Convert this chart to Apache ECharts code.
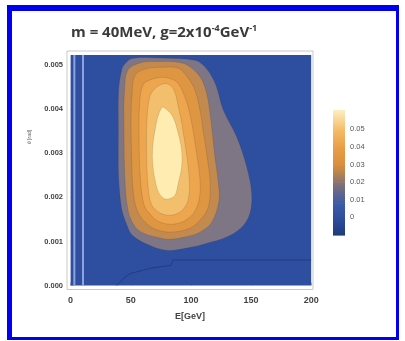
<!DOCTYPE html>
<html>
<head>
<meta charset="utf-8">
<script src="https://cdn.jsdelivr.net/npm/echarts@6/dist/echarts.min.js"></script>
<style>
  html, body { margin: 0; padding: 0; background: #fff; }
  #chart { position: absolute; left: 0; top: 0; width: 405px; height: 341px; }
  #frame {
    position: absolute; left: 7px; top: 5px; width: 392px; height: 335px;
    box-sizing: border-box; border-style: solid; border-color: #0000f0;
    border-width: 6px 3px 3px 5px; pointer-events: none;
  }
</style>
</head>
<body>
<div id="chart"></div>
<div id="frame"></div>
<script>
// tick labels
const xTicks = [0, 50, 100, 150, 200];
const yTicks = [0, 0.001, 0.002, 0.003, 0.004, 0.005];
const cbarTicks = [0, 0.01, 0.02, 0.03, 0.04, 0.05];

// plotted region (E in GeV, y value)
const plotBox = [[0, 0], [200, 0], [200, 0.00523], [0, 0.00523]];

// contour boundaries, outermost first: [E, y]
const contourGray = [[44.4,0.00500],[51.0,0.00515],[74.3,0.00516],[103.4,0.00511],[110.1,0.00500],[116.7,0.00477],[121.4,0.00450],[126.9,0.00398],[138.1,0.00337],[146.4,0.00269],[150.5,0.00210],[149.1,0.00164],[142.5,0.00133],[129.8,0.00110],[113.4,0.00096],[96.8,0.00085],[79.3,0.00080],[61.8,0.00096],[51.0,0.00115],[46.9,0.00137],[42.7,0.00171],[40.6,0.00217],[39.7,0.00262],[39.7,0.00353],[39.9,0.00443],[42.5,0.00489]];
const contourBrown = [[47.7,0.00489],[57.7,0.00505],[70.2,0.00508],[92.6,0.00505],[102.5,0.00489],[109.2,0.00466],[113.4,0.00432],[115.5,0.00398],[117.5,0.00353],[120.0,0.00291],[122.5,0.00239],[123.4,0.00194],[117.5,0.00144],[107.6,0.00121],[95.1,0.00110],[82.6,0.00105],[74.3,0.00108],[60.2,0.00119],[52.7,0.00137],[47.7,0.00171],[45.2,0.00239],[44.4,0.00353],[44.8,0.00443]];
const contourOrange = [[53.5,0.00477],[61.8,0.00491],[74.3,0.00495],[89.5,0.00493],[97.6,0.00471],[103.4,0.00443],[107.6,0.00398],[110.1,0.00353],[113.4,0.00294],[115.9,0.00239],[115.0,0.00183],[109.2,0.00153],[99.3,0.00130],[82.6,0.00121],[70.2,0.00128],[61.8,0.00144],[55.2,0.00171],[51.9,0.00217],[50.8,0.00285],[50.2,0.00375],[51.0,0.00432]];
const contourLightOrange = [[60.2,0.00455],[67.7,0.00468],[78.5,0.00472],[88.6,0.00461],[94.3,0.00432],[98.4,0.00398],[101.7,0.00353],[105.1,0.00294],[107.6,0.00239],[106.8,0.00194],[101.7,0.00162],[92.6,0.00144],[82.6,0.00139],[72.7,0.00146],[66.0,0.00162],[61.0,0.00183],[58.1,0.00239],[56.9,0.00330],[57.3,0.00409]];
const contourTan = [[67.7,0.00439],[74.3,0.00455],[81.0,0.00457],[86.0,0.00443],[89.3,0.00409],[92.6,0.00364],[95.9,0.00307],[98.4,0.00251],[98.4,0.00205],[95.1,0.00178],[87.6,0.00162],[79.3,0.00160],[71.8,0.00169],[66.8,0.00187],[64.3,0.00228],[63.1,0.00307],[63.5,0.00375],[65.2,0.00421]];
const contourPale = [[77.0,0.00405],[84.5,0.00385],[89.5,0.00345],[92.3,0.00307],[92.3,0.00269],[89.5,0.00232],[86.8,0.00205],[81.2,0.00196],[77.1,0.00198],[72.9,0.00213],[70.2,0.00239],[68.2,0.00277],[68.2,0.00315],[70.2,0.00353],[72.5,0.00383],[75.0,0.00400]];

// lowest contour line near the bottom
const lowContour = [[38.3,0],[44.4,0.00017],[49.4,0.00027],[66.0,0.00039],[83.6,0.00046],[85.3,0.00058],[200,0.00058]];
// light vertical stripes at small E
const stripeE = [3.1, 10.3];

// colour bar stops
const cbarValues = [-0.010, 0.000, 0.008, 0.015, 0.020, 0.025, 0.030, 0.040, 0.050, 0.061];
const cbarColors = ['#1f3b78', '#2e4f9f', '#3d5ca6', '#66688a', '#8a7470', '#b4834f', '#d98f3f', '#ea9e48', '#f4bd68', '#fdefc4'];

const bands = [plotBox, contourGray, contourBrown, contourOrange, contourLightOrange, contourTan, contourPale];
const bandColors = ['#2e4f9f', '#7e7684', '#c38a4f', '#de9642', '#eda64e', '#f4bf6c', '#feecb0'];

const chart = echarts.init(document.getElementById('chart'));

const labelFont = 'Liberation Sans';

const option = {
  animation: false,
  title: {
    text: '{t|m = 40MeV, g=2x10}{s|-4}{t|GeV}{s|-1}',
    left: 71,
    top: 24,
    padding: 0,
    textStyle: {
      rich: {
        t: { fontFamily: 'Open Sans', fontSize: 15, fontWeight: 'bold', color: '#3a3a3a', lineHeight: 18 },
        s: { fontFamily: 'Open Sans', fontSize: 9, fontWeight: 'bold', color: '#3a3a3a', lineHeight: 10, verticalAlign: 'top' }
      }
    }
  },
  grid: [
    { left: 67, top: 51, width: 246, height: 238.5, show: true, borderColor: '#c8c8c8', borderWidth: 1, backgroundColor: 'transparent', outerBoundsMode: 'none' },
    { left: 333, top: 110, width: 12, height: 125, outerBoundsMode: 'none' }
  ],
  xAxis: [
    {
      type: 'value', gridIndex: 0, min: -3.0, max: 201.5,
      name: 'E[GeV]', nameLocation: 'middle', nameGap: 23,
      nameTextStyle: { fontFamily: labelFont, fontSize: 9, fontWeight: 'bold', color: '#444' },
      axisLine: { show: false }, splitLine: { show: false },
      axisTick: { inside: true, length: 3, lineStyle: { color: '#bbb' }, customValues: xTicks },
      axisLabel: { customValues: xTicks, fontFamily: labelFont, fontSize: 9, fontWeight: 'bold', color: '#444', margin: 7 }
    },
    {
      type: 'value', gridIndex: 1, min: 0, max: 1, show: false
    }
  ],
  yAxis: [
    {
      type: 'value', gridIndex: 0, min: -0.00009, max: 0.00532,
      axisLine: { show: false }, splitLine: { show: false },
      axisTick: { inside: true, length: 3, lineStyle: { color: '#bbb' }, customValues: yTicks },
      axisLabel: {
        customValues: yTicks, fontFamily: labelFont, fontSize: 7.5, fontWeight: 'bold', color: '#444', margin: 4,
        formatter: v => v.toFixed(3)
      }
    },
    {
      type: 'value', gridIndex: 1, min: -0.010, max: 0.061, position: 'right',
      axisLine: { show: false }, splitLine: { show: false }, axisTick: { show: false },
      axisLabel: {
        customValues: cbarTicks, fontFamily: labelFont, fontSize: 7.5, color: '#555', margin: 5,
        formatter: v => (v === 0 ? '0' : v.toFixed(2))
      }
    }
  ],
  graphic: [
    {
      type: 'text', x: 30, y: 137, rotation: Math.PI / 2,
      style: { text: 'θ [rad]', fontSize: 5, fill: '#666', align: 'center', verticalAlign: 'middle' }
    }
  ],
  series: [
    {
      type: 'custom', xAxisIndex: 0, yAxisIndex: 0,
      data: bands.map((b, i) => [i, 0]),
      renderItem: function (params, api) {
        const i = params.dataIndex;
        const pts = bands[i].map(p => api.coord(p));
        return {
          type: 'polygon',
          shape: { points: pts, smooth: i === 0 ? 0 : 0.35 },
          style: {
            fill: bandColors[i],
            stroke: i === 0 ? null : 'rgba(50,35,40,0.18)',
            lineWidth: 0.8
          }
        };
      },
      silent: true, z: 1
    },
    {
      type: 'custom', xAxisIndex: 0, yAxisIndex: 0,
      data: stripeE.map(e => [e, 0]),
      renderItem: function (params, api) {
        const e = stripeE[params.dataIndex];
        const p0 = api.coord([e, plotBox[0][1]]);
        const p1 = api.coord([e, plotBox[2][1]]);
        return {
          type: 'line',
          shape: { x1: p0[0], y1: p0[1], x2: p1[0], y2: p1[1] },
          style: { stroke: '#8ea3dc', lineWidth: 2 }
        };
      },
      silent: true, z: 2
    },
    {
      type: 'line', xAxisIndex: 0, yAxisIndex: 0,
      data: lowContour, showSymbol: false,
      lineStyle: { color: '#213d80', width: 1 },
      silent: true, z: 2
    },
    {
      type: 'custom', xAxisIndex: 1, yAxisIndex: 1,
      data: cbarValues.slice(0, -1).map((v, i) => [0, v]),
      renderItem: function (params, api) {
        const i = params.dataIndex;
        const p0 = api.coord([0, cbarValues[i]]);
        const p1 = api.coord([1, cbarValues[i + 1]]);
        return {
          type: 'rect',
          shape: { x: p0[0], y: p1[1], width: p1[0] - p0[0], height: p0[1] - p1[1] + 0.6 },
          style: {
            fill: new echarts.graphic.LinearGradient(0, 1, 0, 0, [
              { offset: 0, color: cbarColors[i] },
              { offset: 1, color: cbarColors[i + 1] }
            ])
          }
        };
      },
      silent: true
    }
  ]
};

chart.setOption(option);
</script>
</body>
</html>
